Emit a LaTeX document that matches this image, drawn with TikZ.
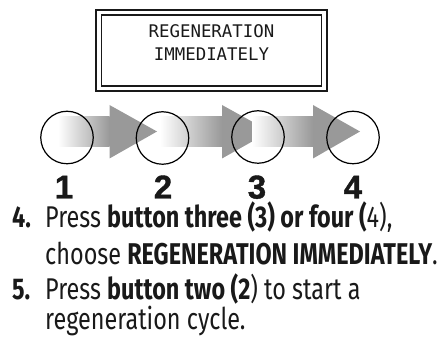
\documentclass[tikz,border=0pt]{standalone}
\usepackage{fontspec}
\newfontfamily\boxfont{DejaVu Sans Mono}
\newfontfamily\txtfont[FakeStretch=0.78]{Fira Sans}
\newfontfamily\digfont[FakeBold=1.2]{Liberation Sans}
\definecolor{arrowgray}{gray}{0.6}
\definecolor{ink}{gray}{0.1}
\tikzset{
  frame/.style={draw=ink, line width=1.4pt, inner sep=0pt},
  ring/.style={circle, draw=black, line width=1.2pt, minimum size=52.5pt, inner sep=0pt},
  lcd/.style={anchor=base, inner sep=0pt, text=ink, font=\boxfont\fontsize{17.4}{20}\selectfont},
  digit/.style={anchor=base, inner sep=0pt, text=ink, font=\digfont\bfseries\fontsize{33}{33}\selectfont},
  body/.style={anchor=base west, inner sep=0pt, text=ink, font=\txtfont\fontsize{30}{30}\selectfont},
}
\newcommand\garrow[4]{%
  \coordinate (#1s) at (#2,131.5);
  \coordinate (#1t) at (#4,131.5);
  \shade[left color=white, right color=arrowgray] (#2,116.5) rectangle (#3,147);
  \fill[arrowgray] (#3,105) -- (#1t) -- (#3,158.5) -- cycle;
}
\begin{document}
\begin{tikzpicture}[x=1pt,y=-1pt]
\useasboundingbox (0,0) rectangle (448,339);
% display frame
\node[frame, minimum width=231pt, minimum height=81pt] (outer) at (211.5,50.5) {};
\node[frame, minimum width=220pt, minimum height=71pt] (inner) at (211.5,50.5) {};
\node[lcd] (l1) at (211.5,38) {REGENERATION};
\node[lcd] (l2) at (211.5,61) {IMMEDIATELY};
% arrows
\garrow{a1}{58}{109.5}{157}
\garrow{a2}{160}{222}{270}
\garrow{a3}{252}{313}{360}
% buttons
\node[ring] (c1) at (67,137.5) {};
\node[ring] (c2) at (162.5,138) {};
\node[ring] (c3) at (258,137) {};
\node[ring] (c4) at (353,137.5) {};
\node[digit] (n1) at (64,198.5) {1};
\node[digit] (n2) at (163,198.5) {2};
\node[digit] (n3) at (257,198.5) {3};
\node[digit] (n4) at (353,198.5) {4};
% instructions
\node[body] (s4) at (12,228) {\bfseries 4.};
\node[body] (t1) at (45,228) {Press \textbf{button three (3) or four (}4),};
\node[body] (t2) at (45,264.5) {choose \textbf{REGENERATION IMMEDIATELY}.};
\node[body] (s5) at (12,300) {\bfseries 5.};
\node[body] (t3) at (45,300) {Press \textbf{button two (2}) to start a};
\node[body] (t4) at (45,330) {regeneration cycle.};
\end{tikzpicture}
\end{document}
